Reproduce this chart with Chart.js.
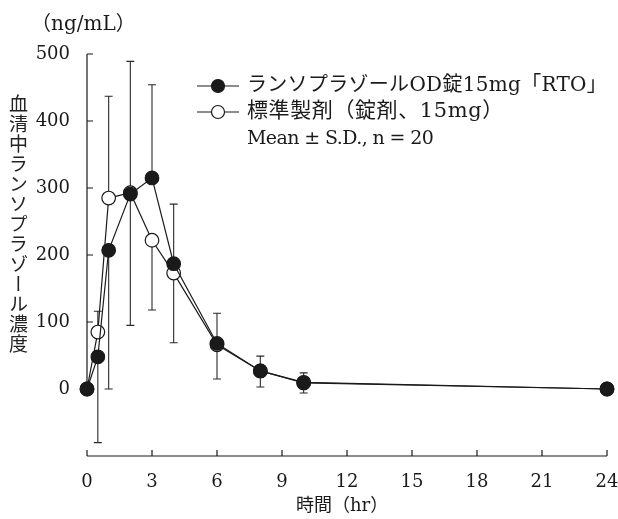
<!DOCTYPE html>
<html>
<head>
<meta charset="utf-8">
<script src="https://cdn.jsdelivr.net/npm/chart.js@4/dist/chart.umd.min.js"></script>
<style>
  html, body { margin: 0; padding: 0; background: #fff; }
  #wrap { position: relative; width: 618px; height: 519px; }
  #ytitle {
    position: absolute; left: 8px; top: 94px;
    writing-mode: vertical-rl; text-orientation: mixed;
    font-family: "Noto Sans CJK JP", sans-serif; font-size: 19px;
    letter-spacing: 1px; color: #222; line-height: 20px;
  }
</style>
</head>
<body>
<div id="wrap">
  <canvas id="pk" width="618" height="519"></canvas>
  <div id="ytitle">血清中ランソプラゾール濃度</div>
</div>
<script>
const hours = [0, 0.5, 1, 2, 3, 4, 6, 8, 10, 24];
const odMean = [0, 48, 207, 291, 315, 187, 68, 27, 9, 0];
const odSd = [0, 128, 207, 196, 139, 89, 45, 22, 15, 1];
const refMean = [0, 85, 285, 293, 222, 173, 66, 27, 10, 0];
const refSd = [0, 31, 152, 196, 104, 104, 51, 24, 14, 1];
const xTicks = [0, 3, 6, 9, 12, 15, 18, 21, 24];
const yTicks = [0, 100, 200, 300, 400, 500];
const seriesNames = ['ランソプラゾールOD錠15mg「RTO」', '標準製剤（錠剤、15mg）'];
const note = 'Mean ± S.D., n = 20';
const unitLabel = '（ng/mL）';
const xTitle = '時間（hr）';

const FONT = '"DejaVu Serif", "Noto Sans CJK JP", serif';
const INK = '#1a1a1a';

// higher mean gets the upper bar, lower one the lower bar (like the original)
const errorBars = {
  id: 'errorBars',
  beforeDatasetsDraw(chart) {
    const ctx = chart.ctx, xs = chart.scales.x, ys = chart.scales.y;
    ctx.save();
    ctx.strokeStyle = '#2a2a2a';
    ctx.lineWidth = 1.1;
    hours.forEach((h, i) => {
      const px = xs.getPixelForValue(h);
      const odUp = odMean[i] >= refMean[i];
      const bars = [
        [odMean[i], odUp ? odSd[i] : -odSd[i]],
        [refMean[i], odUp ? -refSd[i] : refSd[i]]
      ];
      bars.forEach(([m, d]) => {
        if (!d) return;
        const y0 = ys.getPixelForValue(m), y1 = ys.getPixelForValue(m + d);
        ctx.beginPath();
        ctx.moveTo(px, y0); ctx.lineTo(px, y1);
        ctx.moveTo(px - 4, y1); ctx.lineTo(px + 4, y1);
        ctx.stroke();
      });
    });
    ctx.restore();
  }
};

const axesAndText = {
  id: 'axesAndText',
  afterDraw(chart) {
    const ctx = chart.ctx, xs = chart.scales.x, ys = chart.scales.y;
    const left = xs.getPixelForValue(0), right = xs.getPixelForValue(24);
    const bottom = chart.chartArea.bottom;
    ctx.save();
    ctx.strokeStyle = INK;
    ctx.fillStyle = INK;
    ctx.lineWidth = 1.2;

    // y axis: only from 0 to 500, ticks inward
    ctx.beginPath();
    ctx.moveTo(left, ys.getPixelForValue(0));
    ctx.lineTo(left, ys.getPixelForValue(500));
    yTicks.forEach(v => {
      const py = ys.getPixelForValue(v);
      ctx.moveTo(left, py); ctx.lineTo(left + 6, py);
    });
    // x axis, ticks pointing up
    ctx.moveTo(left, bottom); ctx.lineTo(right, bottom);
    xTicks.forEach(v => {
      const px = xs.getPixelForValue(v);
      ctx.moveTo(px, bottom); ctx.lineTo(px, bottom - 6);
    });
    ctx.stroke();

    ctx.font = '18px ' + FONT;
    ctx.textBaseline = 'middle';
    ctx.textAlign = 'right';
    yTicks.forEach(v => ctx.fillText(String(v), 70, ys.getPixelForValue(v)));
    ctx.textAlign = 'center';
    xTicks.forEach(v => ctx.fillText(String(v), xs.getPixelForValue(v), 482));

    ctx.textAlign = 'left';
    ctx.fillText(xTitle, 296, 506);
    ctx.font = '20px ' + FONT;
    ctx.fillText(unitLabel, 31, 25);

    // legend
    const fills = [INK, '#fff'];
    const sizes = [[20, '0.3px'], [21, '0.6px']];
    [86, 112].forEach((ly, k) => {
      ctx.beginPath();
      ctx.moveTo(197, ly); ctx.lineTo(239, ly);
      ctx.stroke();
      ctx.beginPath();
      ctx.arc(218, ly, 6.5, 0, Math.PI * 2);
      ctx.fillStyle = fills[k];
      ctx.fill();
      ctx.stroke();
      ctx.fillStyle = INK;
      ctx.font = sizes[k][0] + 'px ' + FONT;
      ctx.letterSpacing = sizes[k][1];
      ctx.fillText(seriesNames[k], 247, ly);
    });
    ctx.font = '19px ' + FONT;
    ctx.letterSpacing = '-0.6px';
    ctx.fillText(note, 247, 139);
    ctx.restore();
  }
};

const toPts = arr => arr.map((v, i) => ({x: hours[i], y: v}));

new Chart(document.getElementById('pk'), {
  type: 'line',
  data: {
    datasets: [
      {label: seriesNames[0], data: toPts(odMean), borderColor: INK, borderWidth: 1.2,
       pointRadius: 6.8, pointBackgroundColor: INK, pointBorderColor: INK, pointBorderWidth: 1.2,
       tension: 0, clip: false},
      {label: seriesNames[1], data: toPts(refMean), borderColor: INK, borderWidth: 1.2,
       pointRadius: 6.8, pointBackgroundColor: '#fff', pointBorderColor: INK, pointBorderWidth: 1.2,
       tension: 0, clip: false}
    ]
  },
  options: {
    responsive: false,
    animation: false,
    devicePixelRatio: 1,
    layout: {padding: {left: 87, right: 11, top: 54, bottom: 63}},
    plugins: {legend: {display: false}, tooltip: {enabled: false}},
    scales: {
      x: {type: 'linear', min: 0, max: 24, display: false},
      y: {min: -100, max: 500, display: false}
    }
  },
  plugins: [errorBars, axesAndText]
});
</script>
</body>
</html>
